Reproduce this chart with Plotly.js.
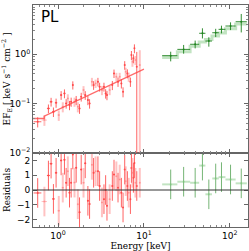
<!DOCTYPE html>
<html><head><meta charset="utf-8">
<script src="https://cdn.plot.ly/plotly-3.0.1.min.js"></script>
<style>html,body{margin:0;padding:0;background:#fff}</style>
</head><body><div id="chart" style="width:249px;height:251px"></div>
<script>
// Red (soft X-ray) spectrum
const redE = [0.579,0.693,0.772,0.829,0.883,0.948,1.019,1.085,1.135,1.187,1.242,1.299,1.359,1.420,1.485,1.554,1.625,1.700,1.778,1.859,1.980,2.071,2.225,2.327,2.479,2.593,2.735,2.912,3.046,3.244,3.423,3.581,3.712,3.989,4.285,4.482,4.772,4.991,5.220,5.460,5.710,5.972,6.135,6.417,6.653,6.958,7.148,7.343,7.543,7.749,7.961,8.253,8.947];
const redEw = [0.06,0.05,0.03,0.03,0.03,0.03,0.03,0.03,0.03,0.03,0.03,0.03,0.03,0.03,0.03,0.04,0.04,0.04,0.04,0.04,0.05,0.05,0.05,0.05,0.06,0.06,0.06,0.06,0.07,0.07,0.07,0.07,0.08,0.08,0.08,0.09,0.09,0.09,0.1,0.1,0.1,0.1,0.1,0.1,0.1,0.1,0.1,0.1,0.1,0.1,0.1,0.1,0.15];
const redY = [0.043,0.0465,0.0802,0.1094,0.0686,0.1045,0.0587,0.1494,0.0867,0.1616,0.1013,0.1279,0.0937,0.1094,0.2384,0.1094,0.1183,0.0867,0.0802,0.1382,0.1888,0.1494,0.1183,0.1013,0.2786,0.2384,0.2577,0.2786,0.2206,0.1888,0.2206,0.1616,0.1494,0.1888,0.2384,0.411,0.3518,0.2786,0.3518,0.2577,0.1746,0.6067,0.4443,0.411,0.3518,0.2786,0.968,0.7086,0.8283,1.322,0.766,0.561,0.6067];
const redErr = [0.010,0.011,0.016,0.022,0.015,0.022,0.014,0.03,0.02,0.033,0.022,0.027,0.02,0.023,0.045,0.023,0.025,0.02,0.018,0.028,0.038,0.03,0.025,0.022,0.055,0.048,0.05,0.055,0.045,0.04,0.045,0.035,0.032,0.04,0.05,0.08,0.07,0.06,0.07,0.055,0.04,0.12,0.09,0.085,0.075,0.06,0.2,0.15,0.17,0.27,0.16,0.559,0.605];
const redRes = [-0.2,-0.78,0.98,1.78,-0.6,1.16,-1.4,2.0,0.16,2.04,0.49,1.27,-0.18,0.49,2.4,0.5,1.5,-0.96,-1.5,1.38,0.49,1.8,-0.73,-0.95,1.7,1.16,1.27,1.27,0.27,-0.84,-0.62,0.0,-1.07,-0.62,0.27,1.04,0.93,0.16,0.71,-0.18,-1.18,1.38,0.6,0.27,-0.18,-0.62,1.49,1.16,0.82,1.82,0.49,0.27,0.49];
const redLight = [0,1,0,0,0,0,1,0,1,0,0,1,0,0,0,1,0,1,0,0,1,0,0,0,1,0,1,0,0,1,0,0,0,1,0,0,1,0,1,0,0,0,1,0,1,0,0,1,0,0,1,0,1];
const redModelE = [0.51, 0.69, 0.69, 10.0];
const redModelY = [0.050, 0.050, 0.056, 0.50];

// Green (hard X-ray) spectrum
const greenE = [20.5, 29, 39.5, 48, 57, 68.5, 80, 102, 136];
const greenEminus = [4.2, 4.5, 5, 4, 5, 6, 6, 13, 19];
const greenEplus = [4, 5.5, 4.5, 4, 5, 6, 9, 15, 22];
const greenY = [0.94, 1.26, 1.6, 2.67, 1.86, 2.74, 3.21, 3.75, 4.58];
const greenErrPlus = [0.19, 0.29, 0.3, 0.7, 0.36, 0.55, 0.6, 0.7, 2.0];
const greenErrMinus = [0.22, 0.23, 0.28, 0.57, 0.43, 0.5, 0.55, 0.65, 1.8];
const greenRes = [0.38, 0.56, 0.49, 1.65, -0.29, 0.78, 0.87, 0.71, 0.45];
const greenEdges = [16.3, 24.5, 34.5, 44, 52, 62, 74, 89, 117, 158];
const greenModel = [0.86, 1.13, 1.45, 1.78, 2.0, 2.35, 2.72, 3.3, 4.1, 4.1];

// Tick labels
const xTickVals = [1, 10, 100];
const xTickText = ['10<sup>0</sup>', '10<sup>1</sup>', '10<sup>2</sup>'];
const yTickVals = [0.01, 0.1, 1, 10];
const yTickText = ['10<sup>−2</sup>', '10<sup>−1</sup>', '10<sup>0</sup>', '10<sup>1</sup>'];
const rTickVals = [-2, -1, 0, 1, 2];
const rTickText = ['−2', '−1', '0', '1', '2'];

const RED = 'rgba(255,70,70,0.85)';
const PINK = 'rgba(255,120,120,0.45)';
const GDARK = 'rgba(30,130,30,0.9)';
const GLIGHT = 'rgba(120,195,120,0.45)';

function pick(arr, flag){ return arr.filter((v,i)=>redLight[i]===flag); }

const traces = [];
[[0,RED,1],[1,PINK,2]].forEach(([flag,col,th])=>{
  traces.push({type:'scatter', mode:'markers', x:pick(redE,flag), y:pick(redY,flag),
    xaxis:'x2', yaxis:'y', marker:{size:2,color:col},
    error_x:{type:'data', array:pick(redEw,flag), color:col, thickness:1, width:0},
    error_y:{type:'data', array:pick(redErr,flag), color:col, thickness:th, width:0}});
  traces.push({type:'scatter', mode:'markers', x:pick(redE,flag), y:pick(redRes,flag),
    xaxis:'x', yaxis:'y2', marker:{size:2,color:col},
    error_x:{type:'data', array:pick(redEw,flag), color:col, thickness:1, width:0},
    error_y:{type:'constant', value:1, color:col, thickness:th, width:0}});
});
traces.push({type:'scatter', mode:'lines', x:redModelE, y:redModelY, xaxis:'x2', yaxis:'y',
  line:{color:'rgba(255,70,70,0.8)', width:1.3}});
traces.push({type:'scatter', mode:'lines', x:greenEdges, y:greenModel, xaxis:'x2', yaxis:'y',
  line:{color:GLIGHT, width:3, shape:'hv'}});
traces.push({type:'scatter', mode:'markers', x:greenE, y:greenY, xaxis:'x2', yaxis:'y',
  marker:{size:2,color:GDARK},
  error_x:{type:'data', symmetric:false, array:greenEplus, arrayminus:greenEminus, color:GDARK, thickness:1, width:0},
  error_y:{type:'data', symmetric:false, array:greenErrPlus, arrayminus:greenErrMinus, color:GDARK, thickness:1, width:0}});
traces.push({type:'scatter', mode:'markers', x:greenE, y:greenRes, xaxis:'x', yaxis:'y2',
  marker:{size:2,color:GLIGHT},
  error_x:{type:'data', symmetric:false, array:greenEplus, arrayminus:greenEminus, color:GLIGHT, thickness:2, width:0},
  error_y:{type:'constant', value:1, color:'rgba(60,150,60,0.7)', thickness:1, width:0}});

const tickfont = {family:'DejaVu Sans', size:9, color:'#000'};
const axBase = {showline:true, mirror:'ticks', linecolor:'#666', linewidth:1, ticks:'inside',
  tickcolor:'#666', ticklen:4, showgrid:false, zeroline:false, tickfont:tickfont};
const minorLog = {ticks:'inside', ticklen:2, tickcolor:'#888', dtick:'D1', showgrid:false};

const layout = {
  width:249, height:251, margin:{l:33, r:1, t:5, b:24},
  showlegend:false, paper_bgcolor:'#fff', plot_bgcolor:'#fff',
  xaxis: Object.assign({}, axBase, {type:'log', range:[-0.292, 2.212], anchor:'y2', domain:[0,1],
    tickmode:'array', tickvals:xTickVals, ticktext:xTickText, minor:minorLog,
    title:{text:'Energy [keV]', font:{family:'DejaVu Serif', size:9, color:'#000'}, standoff:0}}),
  xaxis2: Object.assign({}, axBase, {type:'log', range:[-0.292, 2.212], anchor:'y', matches:'x',
    tickmode:'array', tickvals:xTickVals, showticklabels:false, minor:minorLog}),
  yaxis: Object.assign({}, axBase, {type:'log', range:[-2, 1], domain:[0.3333, 1], anchor:'x2',
    tickmode:'array', tickvals:yTickVals, ticktext:yTickText, minor:minorLog,
    title:{text:'EF<sub>E</sub> [ keV s<sup>−1</sup> cm<sup>−2</sup> ]', font:{family:'DejaVu Serif', size:9, color:'#000'}, standoff:2}}),
  yaxis2: Object.assign({}, axBase, {range:[-2.5, 2.5], domain:[0, 0.3333], anchor:'x',
    tickmode:'array', tickvals:rTickVals, ticktext:rTickText,
    title:{text:'Residuals', font:{family:'DejaVu Serif', size:9, color:'#000'}, standoff:4}}),
  shapes:[{type:'line', xref:'paper', x0:0, x1:1, yref:'y2', y0:0, y1:0, line:{color:'#333', width:1}}],
  annotations:[{text:'PL', xref:'paper', yref:'paper', x:0.03, y:0.995, xanchor:'left', yanchor:'top',
    showarrow:false, font:{family:'DejaVu Sans', size:15, color:'#000'}}]
};
Plotly.newPlot('chart', traces, layout, {displayModeBar:false, staticPlot:true});
</script></body></html>
